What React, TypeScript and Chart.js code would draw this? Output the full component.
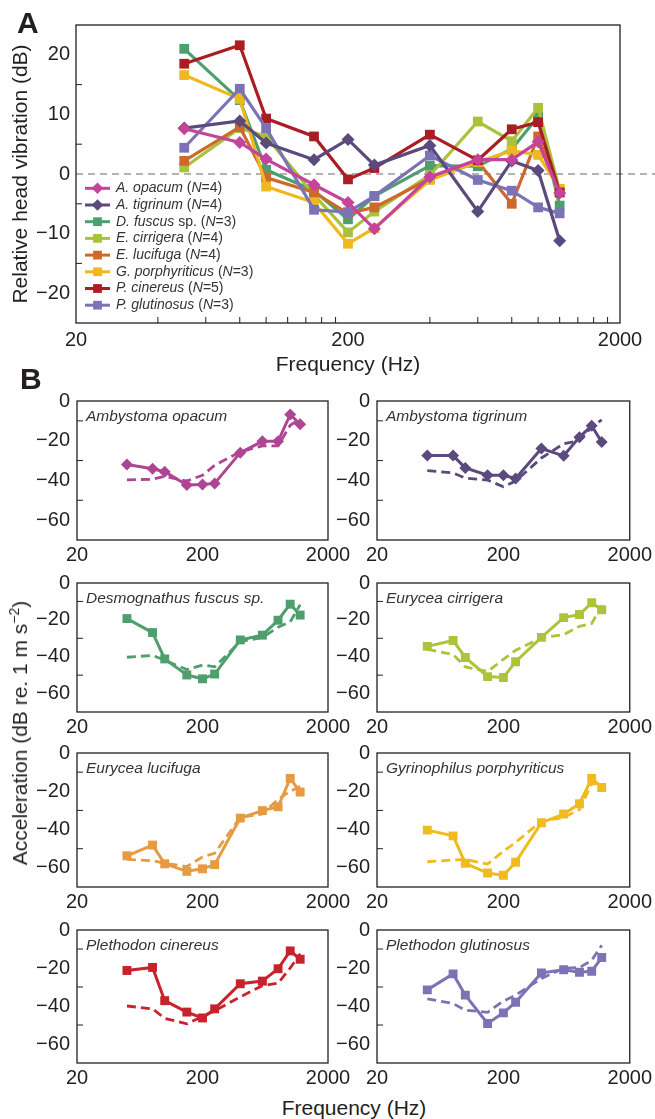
import React, { useEffect, useRef } from "react";
import { Chart, registerables } from "chart.js";

Chart.register(...registerables);

const FONT = "'Liberation Sans', Arial, Helvetica, sans-serif";
const INK = "#231f20";

// ---------- data ----------
const frequencies = [50, 80, 100, 150, 200, 250, 400, 600, 800, 1000, 1200];

const speciesShort = ["A. opacum", "A. tigrinum", "D. fuscus", "E. cirrigera", "E. lucifuga", "G. porphyriticus", "P. cinereus", "P. glutinosus"];
const speciesSuffix = ["", "", " sp.", "", "", "", "", ""];
const speciesFull = ["Ambystoma opacum", "Ambystoma tigrinum", "Desmognathus fuscus sp.", "Eurycea cirrigera", "Eurycea lucifuga", "Gyrinophilus porphyriticus", "Plethodon cinereus", "Plethodon glutinosus"];
const sampleSizes = [4, 4, 3, 4, 4, 3, 5, 3];

// Panel A: relative head vibration (dB)
const relOpacum = [7.6, 5.3, 2.5, -1.8, -4.8, -9.2, -0.5, 2.4, 2.4, 5.4, -3.2];
const relTigrinum = [7.7, 8.9, 5.2, 2.4, 5.8, 1.5, 4.8, -6.3, 2.2, 0.6, -11.2];
const relFuscus = [21.0, 12.4, 0.7, -2.8, -7.6, -3.7, 1.4, 1.3, 4.2, 9.6, -5.3];
const relCirrigera = [1.1, 7.7, 6.3, -3.5, -9.8, -6.3, -0.2, 8.8, 5.5, 11.1, -2.8];
const relLucifuga = [2.2, 7.9, -0.6, -3.1, -6.6, -5.6, -0.8, 2.1, -5.0, 6.3, -3.0];
const relPorphyriticus = [16.6, 12.6, -2.1, -4.8, -11.7, -9.1, -1.0, 2.0, 3.9, 3.2, -2.5];
const relCinereus = [18.5, 21.6, 9.3, 6.3, -0.9, 1.0, 6.6, 2.3, 7.5, 8.7, -3.1];
const relGlutinosus = [4.4, 14.3, 7.7, -6.0, -6.4, -3.7, 3.1, -1.0, -2.8, -5.6, -6.6];

// Panel B: head acceleration (solid) and reference acceleration (dashed), dB re. 1 m s^-2
const headOpacum = [-32.0, -34.1, -35.6, -42.3, -42.1, -41.5, -26.0, -20.3, -20.3, -6.8, -11.7];
const refOpacum = [-39.7, -39.4, -38.0, -40.3, -37.4, -32.4, -25.6, -22.6, -22.6, -12.2, -9.0];
const headTigrinum = [-27.5, -27.5, -33.7, -37.4, -37.4, -39.0, -23.9, -27.6, -18.2, -12.5, -20.7];
const refTigrinum = [-35.1, -36.2, -38.8, -39.8, -43.2, -40.3, -28.7, -21.5, -20.0, -13.1, -9.5];
const headFuscus = [-19.3, -26.9, -41.2, -49.9, -52.0, -49.4, -30.9, -28.3, -20.2, -11.5, -17.4];
const refFuscus = [-40.3, -39.3, -41.9, -47.0, -44.5, -45.5, -31.8, -29.6, -24.0, -21.0, -11.8];
const headCirrigera = [-34.4, -31.2, -40.4, -50.8, -51.3, -42.7, -29.5, -18.8, -17.1, -10.7, -14.5];
const refCirrigera = [-36.0, -38.8, -45.5, -48.0, -41.4, -36.5, -29.8, -28.0, -23.5, -22.0, -12.2];
const headLucifuga = [-53.7, -48.1, -57.9, -61.8, -60.5, -58.3, -34.0, -30.1, -28.1, -13.3, -20.4];
const refLucifuga = [-55.6, -56.3, -57.6, -59.3, -54.3, -52.4, -33.6, -31.8, -24.2, -20.0, -17.4];
const headPorphyriticus = [-40.3, -43.3, -57.6, -62.7, -63.9, -57.1, -36.4, -31.9, -26.5, -13.3, -18.0];
const refPorphyriticus = [-56.8, -55.9, -55.6, -58.0, -51.3, -46.7, -35.6, -33.7, -29.5, -16.2, -15.5];
const headCinereus = [-21.3, -19.7, -37.2, -43.2, -46.3, -41.5, -28.3, -26.9, -20.4, -11.0, -15.4];
const refCinereus = [-40.0, -41.5, -46.5, -49.4, -45.6, -42.5, -35.2, -29.3, -28.0, -20.0, -12.5];
const headGlutinosus = [-31.5, -23.1, -34.3, -49.2, -43.6, -38.0, -22.6, -20.9, -22.2, -21.7, -14.5];
const refGlutinosus = [-36.2, -38.7, -42.2, -43.3, -37.4, -34.3, -25.5, -20.1, -19.8, -16.0, -8.0];

// Tick values
const xMajorTicks = [20, 200, 2000];
const xMinorTicksA = [40, 60, 80, 100, 120, 140, 160, 180, 400, 600, 800, 1000, 1200, 1400, 1600, 1800];
const yTicksA = [-20, -10, 0, 10, 20];
const yMinorTicksA = [-15, -5, 5, 15];
const yTicksB = [-60, -40, -20, 0];
const yMinorTicksB = [-50, -30, -10];

const relativeValues = [relOpacum, relTigrinum, relFuscus, relCirrigera, relLucifuga, relPorphyriticus, relCinereus, relGlutinosus];
const headValues = [headOpacum, headTigrinum, headFuscus, headCirrigera, headLucifuga, headPorphyriticus, headCinereus, headGlutinosus];
const refValues = [refOpacum, refTigrinum, refFuscus, refCirrigera, refLucifuga, refPorphyriticus, refCinereus, refGlutinosus];

// ---------- styles ----------
const colorsA = ["#c4449b", "#5b4a7d", "#4f9e6e", "#a9c23b", "#cc6a2d", "#eeb81f", "#ab1d24", "#7b73b6"];
const colorsB = ["#ae4593", "#5b4a7d", "#4f9e6e", "#abc43c", "#e69a42", "#f0bb1e", "#c8232a", "#7b73b6"];
const markerStyles = ["rectRot", "rectRot", "rect", "rect", "rect", "rect", "rect", "rect"];
const drawOrderA = [0, 1, 7, 6, 5, 4, 3, 2];

const fmtTick = (v: number) => (v < 0 ? "\u2212" + Math.abs(v) : String(v));

function drawMarker(ctx: CanvasRenderingContext2D, style: string, x: number, y: number, r: number) {
  ctx.beginPath();
  if (style === "rectRot") {
    ctx.moveTo(x - r, y);
    ctx.lineTo(x, y - r);
    ctx.lineTo(x + r, y);
    ctx.lineTo(x, y + r);
    ctx.closePath();
  } else {
    const s = r * Math.SQRT1_2;
    ctx.rect(x - s, y - s, 2 * s, 2 * s);
  }
  ctx.fill();
}

function makeFramePlugin(xTicks: number[], yTicks: number[]) {
  return {
    id: "frameTicks",
    afterDraw(chart: any) {
      const { ctx, chartArea: a, scales } = chart;
      ctx.save();
      ctx.strokeStyle = INK;
      ctx.lineWidth = 1.3;
      ctx.strokeRect(a.left, a.top, a.right - a.left, a.bottom - a.top);
      ctx.beginPath();
      for (const v of xTicks) {
        const px = scales.x.getPixelForValue(v);
        ctx.moveTo(px, a.bottom);
        ctx.lineTo(px, a.bottom - 6);
      }
      for (const v of yTicks) {
        const py = scales.y.getPixelForValue(v);
        ctx.moveTo(a.left, py);
        ctx.lineTo(a.left + 6, py);
      }
      ctx.lineWidth = 1;
      ctx.stroke();
      ctx.restore();
    },
  };
}

const zeroLinePlugin = {
  id: "zeroLine",
  beforeDatasetsDraw(chart: any) {
    const { ctx, chartArea: a, scales } = chart;
    const y = scales.y.getPixelForValue(0);
    ctx.save();
    ctx.strokeStyle = "#b3b3b3";
    ctx.lineWidth = 1.8;
    ctx.setLineDash([7, 5]);
    ctx.beginPath();
    ctx.moveTo(a.left, y);
    ctx.lineTo(chart.width, y);
    ctx.stroke();
    ctx.restore();
  },
};

const legendPlugin = {
  id: "speciesLegend",
  afterDatasetsDraw(chart: any) {
    const ctx: CanvasRenderingContext2D = chart.ctx;
    const a = chart.chartArea;
    const x0 = a.left + 9;
    const y0 = 188.3;
    const step = 16.7;
    ctx.save();
    speciesShort.forEach((name, i) => {
      const y = y0 + i * step;
      ctx.strokeStyle = colorsA[i];
      ctx.lineWidth = 3;
      ctx.beginPath();
      ctx.moveTo(x0, y);
      ctx.lineTo(x0 + 25, y);
      ctx.stroke();
      ctx.fillStyle = colorsA[i];
      drawMarker(ctx, markerStyles[i], x0 + 12.5, y, markerStyles[i] === "rectRot" ? 5.8 : 6.2);
      const segs: [string, boolean][] = [
        [name, true],
        [speciesSuffix[i] + " (", false],
        ["N", true],
        ["=" + sampleSizes[i] + ")", false],
      ];
      let x = x0 + 31;
      ctx.fillStyle = "#333333";
      ctx.textBaseline = "middle";
      for (const [t, it] of segs) {
        ctx.font = `${it ? "italic " : ""}14px ${FONT}`;
        ctx.fillText(t, x, y);
        x += ctx.measureText(t).width;
      }
    });
    ctx.restore();
  },
};

function makeNamePlugin(text: string) {
  return {
    id: "speciesName",
    afterDraw(chart: any) {
      const { ctx, chartArea: a } = chart;
      ctx.save();
      ctx.font = `italic 15.5px ${FONT}`;
      ctx.fillStyle = "#333333";
      ctx.textBaseline = "middle";
      ctx.fillText(text, a.left + 9, a.top + 15.5);
      ctx.restore();
    },
  };
}

function panelAConfig(): any {
  return {
    type: "line",
    data: {
      datasets: speciesShort.map((name, i) => ({
        label: `${name}${speciesSuffix[i]} (N=${sampleSizes[i]})`,
        data: frequencies.map((f, j) => ({ x: f, y: relativeValues[i][j] })),
        borderColor: colorsA[i],
        backgroundColor: colorsA[i],
        borderWidth: 3.2,
        pointStyle: markerStyles[i],
        pointRadius: markerStyles[i] === "rectRot" ? 6.5 : 6.9,
        pointBorderWidth: 0,
        order: drawOrderA[i],
      })),
    },
    options: {
      responsive: false,
      animation: false,
      devicePixelRatio: 1,
      layout: { padding: { left: 0, right: 35, top: 25, bottom: 0 } },
      plugins: { legend: { display: false }, tooltip: { enabled: false } },
      scales: {
        x: {
          type: "logarithmic",
          min: 20,
          max: 2000,
          afterBuildTicks: (s: any) => { s.ticks = xMajorTicks.map((v) => ({ value: v })); },
          afterFit: (s: any) => { s.height = 55; },
          grid: { display: false, drawTicks: false },
          border: { display: false },
          ticks: { font: { family: FONT, size: 20 }, color: INK, padding: 5, autoSkip: false, maxRotation: 0, callback: (v: any) => String(v) },
          title: { display: true, text: "Frequency (Hz)", font: { family: FONT, size: 21 }, color: INK, padding: 0 },
        },
        y: {
          type: "linear",
          min: -25,
          max: 25,
          afterBuildTicks: (s: any) => { s.ticks = yTicksA.map((v) => ({ value: v })); },
          afterFit: (s: any) => { s.width = 76; },
          grid: { display: false, drawTicks: false },
          border: { display: false },
          ticks: { font: { family: FONT, size: 20 }, color: INK, padding: 6, callback: (v: any) => fmtTick(v) },
          title: { display: true, text: "Relative head vibration (dB)", font: { family: FONT, size: 21 }, color: INK, padding: { top: 9, bottom: 0 } },
        },
      },
    },
    plugins: [zeroLinePlugin, legendPlugin, makeFramePlugin(xMinorTicksA, yMinorTicksA)],
  };
}

function panelBConfig(i: number, padLeft: number, padRight: number): any {
  return {
    type: "line",
    data: {
      datasets: [
        {
          label: speciesFull[i] + " head",
          data: frequencies.map((f, j) => ({ x: f, y: headValues[i][j] })),
          borderColor: colorsB[i],
          backgroundColor: colorsB[i],
          borderWidth: 3,
          pointStyle: markerStyles[i],
          pointRadius: markerStyles[i] === "rectRot" ? 6 : 6.3,
          pointBorderWidth: 0,
          order: 0,
        },
        {
          label: speciesFull[i] + " reference",
          data: frequencies.map((f, j) => ({ x: f, y: refValues[i][j] })),
          borderColor: colorsB[i],
          borderWidth: 2.8,
          borderDash: [9, 5],
          pointRadius: 0,
          order: 1,
        },
      ],
    },
    options: {
      responsive: false,
      animation: false,
      devicePixelRatio: 1,
      layout: { padding: { left: padLeft, right: padRight, top: 14, bottom: 0 } },
      plugins: { legend: { display: false }, tooltip: { enabled: false } },
      scales: {
        x: {
          type: "logarithmic",
          min: 20,
          max: 2000,
          afterBuildTicks: (s: any) => { s.ticks = xMajorTicks.map((v) => ({ value: v })); },
          afterFit: (s: any) => { s.height = 32; },
          grid: { display: false, drawTicks: false },
          border: { display: false },
          ticks: { font: { family: FONT, size: 20 }, color: INK, padding: 3, autoSkip: false, maxRotation: 0, callback: (v: any) => String(v) },
        },
        y: {
          type: "linear",
          min: -70,
          max: 0,
          afterBuildTicks: (s: any) => { s.ticks = yTicksB.map((v) => ({ value: v })); },
          afterFit: (s: any) => { s.width = 60; },
          grid: { display: false, drawTicks: false },
          border: { display: false },
          ticks: { font: { family: FONT, size: 20 }, color: INK, padding: 7, callback: (v: any) => fmtTick(v) },
        },
      },
    },
    plugins: [makeNamePlugin(speciesFull[i]), makeFramePlugin([], yMinorTicksB)],
  };
}

function ChartCanvas({ left, top, width, height, build }: { left: number; top: number; width: number; height: number; build: () => any }) {
  const ref = useRef<HTMLCanvasElement>(null);
  useEffect(() => {
    const chart = new Chart(ref.current as HTMLCanvasElement, build());
    return () => chart.destroy();
  }, []);
  return <canvas ref={ref} width={width} height={height} style={{ position: "absolute", left, top, width, height }} />;
}

const colsB = [
  { cx: 0, cw: 355, boxL: 77, boxR: 328 },
  { cx: 317, cw: 338, boxL: 377, boxR: 631 },
];
const rowsB = [
  { top: 396, bottom: 540 },
  { top: 578, bottom: 712 },
  { top: 748, bottom: 887 },
  { top: 925, bottom: 1063 },
];

export default function App() {
  const small = speciesFull.map((_, i) => {
    const c = colsB[i % 2];
    const r = rowsB[Math.floor(i / 2)];
    const cy = r.top - 14;
    const ch = r.bottom + 32 - cy;
    const padLeft = c.boxL - c.cx - 60;
    const padRight = c.cx + c.cw - c.boxR;
    return (
      <ChartCanvas key={i} left={c.cx} top={cy} width={c.cw} height={ch} build={() => panelBConfig(i, padLeft, padRight)} />
    );
  });
  const textStyle: React.CSSProperties = { position: "absolute", fontFamily: FONT, color: INK, whiteSpace: "nowrap" };
  return (
    <div style={{ position: "absolute", left: 0, top: 0, width: 655, height: 1119, overflow: "hidden", background: "#fff" }}>
      <ChartCanvas left={0} top={0} width={655} height={378} build={panelAConfig} />
      {small}
      <div style={{ ...textStyle, left: 17, top: 8, fontSize: 30, fontWeight: "bold", lineHeight: "30px" }}>A</div>
      <div style={{ ...textStyle, left: 20, top: 364, fontSize: 30, fontWeight: "bold", lineHeight: "30px" }}>B</div>
      <div
        style={{
          ...textStyle,
          left: 20,
          top: 733,
          fontSize: 21,
          lineHeight: "24px",
          transform: "translate(-50%, -50%) rotate(-90deg)",
        }}
      >
        Acceleration (dB re. 1 m s<sup style={{ fontSize: 14, lineHeight: 0 }}>{"\u22122"}</sup>)
      </div>
      <div style={{ ...textStyle, left: 354, top: 1097, fontSize: 21, lineHeight: "21px", transform: "translateX(-50%)" }}>
        Frequency (Hz)
      </div>
    </div>
  );
}
